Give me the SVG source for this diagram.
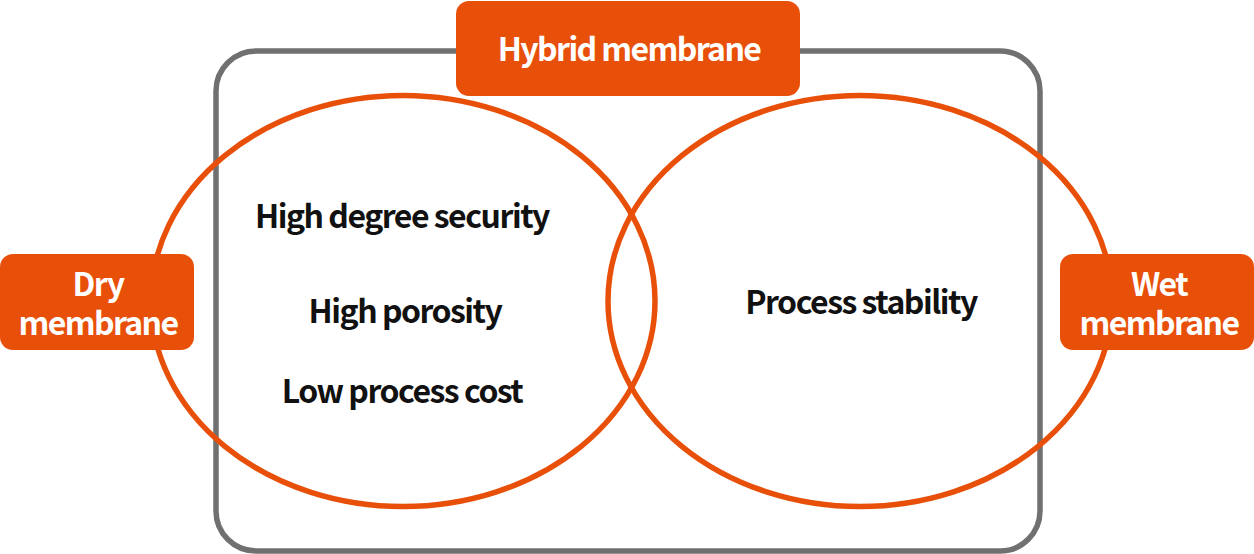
<svg xmlns="http://www.w3.org/2000/svg" width="1254" height="554" viewBox="0 0 1254 554">
  <style>
    .frame { fill: none; stroke: #707070; stroke-width: 5.5; }
    .ring { fill: none; stroke: #E8500A; stroke-width: 5.5; }
    .tag { fill: #E8500A; }
    .tagtext { fill: #FFFFFF; font-family: "Noto Sans CJK KR", "Noto Sans", sans-serif; font-weight: 700; font-size: 32px; letter-spacing: -1.6px; text-anchor: middle; }
    .body { fill: #111111; font-family: "Noto Sans CJK KR", "Noto Sans", sans-serif; font-weight: 700; font-size: 32px; letter-spacing: -1.5px; text-anchor: middle; }
  </style>
  <rect width="1254" height="554" fill="#FFFFFF"/>
  <g id="hybrid-frame">
    <rect class="frame" x="216" y="51" width="824" height="500" rx="40" ry="40"/>
  </g>
  <g id="dry-circle">
    <ellipse class="ring" cx="403" cy="301" rx="252" ry="205.5"/>
    <text class="body" x="402" y="228">High degree security</text>
    <text class="body" x="405" y="323">High porosity</text>
    <text class="body" x="402" y="403">Low process cost</text>
  </g>
  <g id="wet-circle">
    <ellipse class="ring" cx="860" cy="301" rx="252" ry="205.5"/>
    <text class="body" x="861" y="314">Process stability</text>
  </g>
  <g id="hybrid-label">
    <rect class="tag" x="456" y="1" width="344" height="95" rx="13" ry="13"/>
    <text class="tagtext" x="629" y="61">Hybrid membrane</text>
  </g>
  <g id="dry-label">
    <rect class="tag" x="0" y="254" width="194" height="96" rx="13" ry="13"/>
    <text class="tagtext" x="98" y="296">Dry</text>
    <text class="tagtext" x="98" y="335">membrane</text>
  </g>
  <g id="wet-label">
    <rect class="tag" x="1060" y="254" width="194" height="96" rx="13" ry="13"/>
    <text class="tagtext" x="1159" y="296">Wet</text>
    <text class="tagtext" x="1159" y="335">membrane</text>
  </g>
  <g id="connectors"></g>
</svg>
